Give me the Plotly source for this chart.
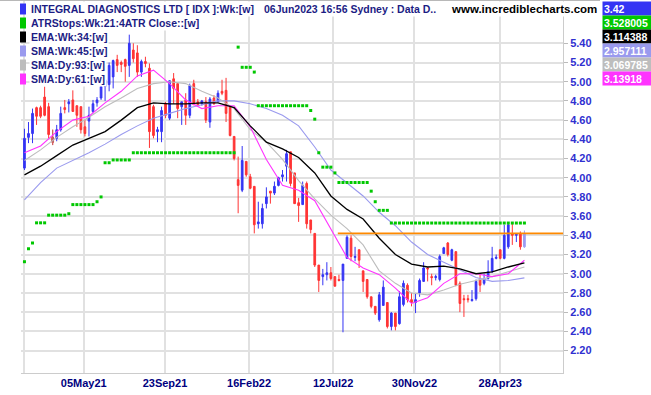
import plotly.graph_objects as go
import pandas as pd

# ---------------- data ----------------
first_bar_date = "2021-01-22"

bar_opens = [4.10, 4.42, 4.46, 4.73, 4.73, 4.84, 4.74, 4.42, 4.41, 4.50,
             4.73, 4.77, 4.81, 4.75, 4.74, 4.53, 4.59, 4.69, 4.78, 4.83,
             4.95, 4.97, 5.05, 5.23, 5.20, 5.23, 5.17, 5.33, 5.30, 5.10,
             5.21, 5.14, 4.74, 4.48, 4.48, 4.77, 4.62, 5.03, 4.98, 4.74,
             4.81, 4.65, 4.98, 4.79, 4.77, 4.79, 4.58, 4.83, 4.79, 4.90,
             4.91, 4.74, 4.43, 3.98, 3.87, 4.17, 4.01, 3.91, 3.52, 3.52,
             3.73, 3.86, 3.84, 3.92, 4.01, 4.12, 4.27, 4.05, 3.74, 3.72,
             3.94, 3.56, 3.42, 3.09, 2.97, 2.99, 3.01, 2.97, 2.94, 2.93,
             3.16, 3.37, 3.17, 3.25, 3.03, 2.94, 2.76, 2.66, 2.52, 2.67,
             2.70, 2.45, 2.59, 2.48, 2.68, 2.88, 2.73, 2.70, 2.80, 2.92,
             3.06, 2.97, 2.96, 2.94, 3.21, 3.32, 3.14, 3.23, 2.90, 2.74,
             2.74, 2.72, 2.74, 2.94, 2.90, 2.95, 3.02, 3.16, 3.25, 3.16,
             3.28, 3.42, 3.40, 3.42, 3.28]
bar_highs = [4.51, 4.58, 4.72, 4.74, 4.75, 4.95, 4.78, 4.50, 4.55, 4.74,
             4.81, 4.82, 4.91, 4.75, 4.74, 4.60, 4.74, 4.81, 4.84, 4.97,
             5.05, 5.20, 5.23, 5.28, 5.22, 5.24, 5.49, 5.40, 5.38, 5.23,
             5.26, 5.19, 4.76, 4.53, 4.74, 4.79, 5.01, 5.09, 4.98, 4.79,
             4.88, 4.98, 5.02, 4.82, 4.81, 4.84, 4.84, 4.86, 4.91, 5.02,
             5.04, 4.74, 4.43, 4.22, 4.33, 4.17, 4.04, 3.91, 3.75, 3.73,
             3.90, 3.86, 3.96, 4.01, 4.08, 4.29, 4.27, 4.05, 3.79, 3.96,
             3.96, 3.56, 3.42, 3.09, 3.05, 3.12, 3.07, 2.97, 2.99, 3.10,
             3.40, 3.40, 3.28, 3.25, 3.03, 2.94, 2.76, 2.66, 2.81, 2.93,
             2.70, 2.60, 2.59, 2.82, 2.93, 2.90, 2.80, 2.80, 2.95, 3.12,
             3.07, 3.00, 2.99, 3.20, 3.28, 3.33, 3.26, 3.23, 2.92, 2.78,
             2.78, 2.83, 2.94, 2.99, 3.00, 3.14, 3.28, 3.20, 3.25, 3.51,
             3.52, 3.52, 3.42, 3.44, 3.45]
bar_lows = [4.08, 4.36, 4.36, 4.55, 4.62, 4.64, 4.41, 4.34, 4.38, 4.48,
            4.67, 4.68, 4.69, 4.53, 4.46, 4.43, 4.43, 4.67, 4.74, 4.81,
            4.80, 4.90, 4.93, 5.10, 5.10, 5.00, 5.05, 5.20, 5.05, 5.05,
            5.15, 4.31, 4.41, 4.37, 4.37, 4.62, 4.60, 4.77, 4.62, 4.55,
            4.55, 4.62, 4.76, 4.75, 4.75, 4.57, 4.52, 4.76, 4.79, 4.86,
            4.58, 4.43, 4.18, 3.63, 3.85, 4.01, 3.88, 3.42, 3.47, 3.47,
            3.68, 3.73, 3.82, 3.91, 3.96, 3.96, 3.91, 3.73, 3.54, 3.72,
            3.47, 3.42, 3.07, 2.81, 2.88, 2.93, 2.93, 2.87, 2.92, 2.39,
            3.16, 3.13, 3.13, 3.06, 2.81, 2.74, 2.64, 2.57, 2.50, 2.67,
            2.43, 2.41, 2.41, 2.47, 2.66, 2.70, 2.66, 2.59, 2.76, 2.92,
            2.92, 2.88, 2.93, 2.92, 3.21, 3.18, 3.13, 2.87, 2.60, 2.55,
            2.70, 2.71, 2.72, 2.81, 2.88, 2.94, 3.01, 3.15, 3.15, 3.15,
            3.26, 3.30, 3.33, 3.25, 3.27]
bar_closes = [4.41, 4.46, 4.67, 4.64, 4.64, 4.65, 4.45, 4.37, 4.50, 4.67,
              4.71, 4.79, 4.69, 4.65, 4.50, 4.46, 4.65, 4.77, 4.81, 4.95,
              5.02, 5.17, 5.22, 5.17, 5.18, 5.16, 5.40, 5.24, 5.10, 5.21,
              5.19, 4.48, 4.44, 4.50, 4.70, 4.65, 5.01, 4.93, 4.72, 4.79,
              4.65, 4.96, 4.76, 4.76, 4.80, 4.60, 4.82, 4.77, 4.88, 4.88,
              4.67, 4.44, 4.20, 3.92, 4.18, 4.03, 3.89, 3.51, 3.54, 3.68,
              3.80, 3.84, 3.91, 4.00, 4.03, 4.25, 3.94, 3.73, 3.71, 3.92,
              3.52, 3.46, 3.09, 2.93, 2.99, 3.01, 2.95, 2.87, 2.93, 3.10,
              3.38, 3.18, 3.18, 3.14, 2.92, 2.76, 2.66, 2.59, 2.78, 2.86,
              2.45, 2.59, 2.45, 2.76, 2.90, 2.73, 2.70, 2.73, 2.93, 3.06,
              3.05, 2.96, 2.97, 3.18, 3.27, 3.20, 3.25, 2.88, 2.69, 2.73,
              2.73, 2.73, 2.92, 2.88, 2.95, 3.02, 3.16, 3.17, 3.16, 3.40,
              3.51, 3.40, 3.41, 3.28, 3.42]
muted_bar_index = 7

atr_stops = [3.125, 3.26, 3.32, 3.53, 3.53, 3.53, 3.61, 3.61, 3.61, 3.61,
             3.61, 3.625, 3.72, 3.72, 3.72, 3.72, 3.72, 3.72, 3.75, 3.80,
             4.156, 4.156, 4.185, 4.185, 4.185, 4.185, 4.185, 4.26, 4.26, 4.26,
             4.26, 4.26, 4.26, 4.26, 4.26, 4.26, 4.26, 4.26, 4.26, 4.26,
             4.26, 4.26, 4.26, 4.26, 4.26, 4.26, 4.26, 4.26, 4.26, 4.26,
             4.26, 4.26, 4.26, 5.36, 5.15, 5.15, 5.15, 5.10, 4.75, 4.75,
             4.75, 4.75, 4.75, 4.75, 4.75, 4.75, 4.75, 4.75, 4.75, 4.75,
             4.75, 4.70, 4.61, 4.26, 4.11, 4.11, 4.11, 4.05, 3.95, 3.95,
             3.95, 3.95, 3.95, 3.95, 3.95, 3.95, 3.86, 3.75, 3.66, 3.66,
             3.66, 3.528, 3.528, 3.528, 3.528, 3.528, 3.528, 3.528, 3.528, 3.528,
             3.528, 3.528, 3.528, 3.528, 3.528, 3.528, 3.528, 3.528, 3.528, 3.528,
             3.528, 3.528, 3.528, 3.528, 3.528, 3.528, 3.528, 3.528, 3.528, 3.528,
             3.528, 3.528, 3.528, 3.528, 3.528]

ma_step = 4   # moving averages
ema34_wk = [4.03, 4.12, 4.23, 4.34, 4.41, 4.48, 4.60, 4.73, 4.78, 4.77,
            4.77, 4.78, 4.78, 4.73, 4.54, 4.37, 4.30, 4.21, 4.05, 3.81,
            3.67, 3.57, 3.37, 3.20, 3.10, 3.07, 3.08, 3.05, 3.00, 3.02,
            3.07, 3.114]
sma45_wk = [3.77, 3.95, 4.10, 4.18, 4.26, 4.35, 4.45, 4.54, 4.62, 4.67,
            4.72, 4.76, 4.80, 4.80, 4.77, 4.72, 4.65, 4.54, 4.32, 4.08,
            3.94, 3.81, 3.64, 3.50, 3.33, 3.20, 3.12, 3.04, 2.96, 2.92,
            2.93, 2.957]
sma93_dy = [4.18, 4.29, 4.42, 4.53, 4.63, 4.74, 4.83, 4.93, 4.98, 5.00,
            4.98, 4.90, 4.83, 4.72, 4.50, 4.37, 4.19, 3.97, 3.78, 3.61,
            3.47, 3.30, 3.03, 2.90, 2.80, 2.78, 2.83, 2.89, 2.93, 2.97,
            3.02, 3.07]
sma61_dy = [4.26, 4.33, 4.48, 4.60, 4.64, 4.78, 4.90, 5.06, 5.12, 4.98,
            4.81, 4.72, 4.75, 4.75, 4.53, 4.19, 3.92, 3.87, 3.76, 3.46,
            3.17, 3.06, 2.99, 2.85, 2.69, 2.75, 2.90, 3.00, 3.00, 2.97,
            3.00, 3.14]

resistance_level = 3.42
resistance_start = "2022-07-20"

x_range = ["2021-01-16", "2023-08-15"]
y_range = [1.966, 5.851]
x_tick_dates = ["2021-01-22", "2021-05-05", "2021-09-23", "2022-02-16",
                "2022-07-12", "2022-11-30", "2023-04-28"]
x_tick_labels = ["", "05May21", "23Sep21", "16Feb22", "12Jul22", "30Nov22", "28Apr23"]
y_tick_values = [2.2, 2.4, 2.6, 2.8, 3.0, 3.2, 3.4, 3.6, 3.8, 4.0,
                 4.2, 4.4, 4.6, 4.8, 5.0, 5.2, 5.4]
y_tick_labels = ["%.2f" % v for v in y_tick_values]

legend_labels = ["INTEGRAL DIAGNOSTICS LTD [ IDX ]:Wk:[w]",
                 "ATRStops:Wk:21:4ATR Close::[w]",
                 "EMA:Wk:34:[w]",
                 "SMA:Wk:45:[w]",
                 "SMA:Dy:93:[w]",
                 "SMA:Dy:61:[w]"]
header_date_text = "06Jun2023 16:56 Sydney : Data D.."
site_text = "www.incrediblecharts.com"
last_values = ["3.42", "3.528005", "3.114388", "2.957111", "3.069785", "3.13918"]

# ---------------- styles ----------------
UP = "#3434f4"
DOWN = "#ff3434"
MUTED = "#c46464"
CURRENT = "#9c9cf2"
GREEN = "#00c800"
LAVENDER = "#9a9aee"
GRAY = "#bdbdbd"
MAGENTA = "#ff33ff"
series_colors = [UP, GREEN, "#000000", LAVENDER, GRAY, MAGENTA]
GRID = "#e1e1e1"

L, R, T, B = 21, 563, 0, 373
W_FIG, H_FIG = 651, 395


def xp(px):
    return (px - L) / (R - L)


def yp(py):
    return (B - py) / (B - T)


dates = pd.date_range(first_bar_date, periods=len(bar_closes), freq="7D")
ma_dates = dates[::ma_step]
n = len(bar_closes)

fig = go.Figure()

# main candles (all but the current bar)
fig.add_trace(go.Candlestick(
    x=dates[:n - 1], open=bar_opens[:n - 1], high=bar_highs[:n - 1],
    low=bar_lows[:n - 1], close=bar_closes[:n - 1],
    increasing=dict(line=dict(color=UP, width=1), fillcolor=UP),
    decreasing=dict(line=dict(color=DOWN, width=1), fillcolor=DOWN),
    whiskerwidth=0, hoverinfo="skip", showlegend=False))

m = muted_bar_index
fig.add_trace(go.Candlestick(
    x=dates[m:m + 1], open=bar_opens[m:m + 1], high=bar_highs[m:m + 1],
    low=bar_lows[m:m + 1], close=bar_closes[m:m + 1],
    increasing=dict(line=dict(color=MUTED, width=1), fillcolor=MUTED),
    decreasing=dict(line=dict(color=MUTED, width=1), fillcolor=MUTED),
    whiskerwidth=0, hoverinfo="skip", showlegend=False))

fig.add_trace(go.Candlestick(
    x=dates[n - 1:], open=bar_opens[n - 1:], high=bar_highs[n - 1:],
    low=bar_lows[n - 1:], close=bar_closes[n - 1:],
    increasing=dict(line=dict(color=CURRENT, width=1), fillcolor=CURRENT),
    decreasing=dict(line=dict(color=CURRENT, width=1), fillcolor=CURRENT),
    whiskerwidth=0, hoverinfo="skip", showlegend=False))

# moving averages
for vals, col, w in [(sma45_wk, LAVENDER, 1.1), (sma93_dy, GRAY, 1.1),
                     (sma61_dy, MAGENTA, 1.1), (ema34_wk, "#000000", 1.3)]:
    fig.add_trace(go.Scatter(x=ma_dates, y=vals, mode="lines",
                             line=dict(color=col, width=w),
                             hoverinfo="skip", showlegend=False))

# ATR stops
fig.add_trace(go.Scatter(x=dates, y=atr_stops, mode="markers",
                         marker=dict(symbol="square", size=3, color=GREEN,
                                     line=dict(width=0)),
                         hoverinfo="skip", showlegend=False))

# horizontal level line
fig.add_trace(go.Scatter(x=[resistance_start, x_range[1]],
                         y=[resistance_level, resistance_level], mode="lines",
                         line=dict(color="#ff8a00", width=1.6),
                         hoverinfo="skip", showlegend=False))

annotations = []
shapes = []
row_centers = [9, 23, 37, 51, 65, 79]
txt_font = dict(family="Arial", size=10.5, color="#1c1c84", weight="bold")

for i, (lab, col) in enumerate(zip(legend_labels, series_colors)):
    yc = row_centers[i]
    shapes.append(dict(type="rect", xref="paper", yref="paper",
                       x0=xp(20), x1=xp(26), y0=yp(yc + 5.5), y1=yp(yc - 5.5),
                       fillcolor=col, line=dict(width=0), layer="above"))
    annotations.append(dict(x=xp(29), y=yp(yc), xref="paper", yref="paper",
                            xanchor="left", yanchor="middle", text=lab,
                            showarrow=False, font=txt_font,
                            bgcolor="white", borderpad=1))
    annotations.append(dict(x=xp(602), y=yp(yc - 0.5), xref="paper", yref="paper",
                            xanchor="left", yanchor="middle", text=last_values[i],
                            showarrow=False, align="left", width=47, height=11,
                            font=dict(family="Arial", size=10.5, color="white",
                                      weight="bold"),
                            bgcolor=col, borderpad=1))

annotations.append(dict(x=xp(262), y=yp(row_centers[0]), xref="paper", yref="paper",
                        xanchor="left", yanchor="middle", text=header_date_text,
                        showarrow=False, font=txt_font, bgcolor="white", borderpad=1))
annotations.append(dict(x=xp(449), y=yp(row_centers[0]), xref="paper", yref="paper",
                        xanchor="left", yanchor="middle", text=site_text,
                        showarrow=False,
                        font=dict(family="Arial", size=11.5, color="#000000",
                                  weight="bold"),
                        bgcolor="white", borderpad=1))

shapes.append(dict(type="line", xref="paper", yref="paper",
                   x0=xp(0), x1=xp(600), y0=yp(0.5), y1=yp(0.5),
                   line=dict(color="#b8b8b8", width=1), layer="above"))

fig.update_layout(
    width=W_FIG, height=H_FIG, autosize=False,
    margin=dict(l=L, r=W_FIG - R, t=T, b=H_FIG - B, pad=0),
    paper_bgcolor="white", plot_bgcolor="white",
    showlegend=False, boxgap=0.4, boxmode="overlay",
    font=dict(family="Arial"),
    annotations=annotations, shapes=shapes,
    xaxis=dict(type="date", range=x_range, tickmode="array",
               tickvals=x_tick_dates, ticktext=x_tick_labels,
               showgrid=True, gridcolor=GRID, gridwidth=2,
               showline=True, linecolor="#cccccc", linewidth=1,
               ticks="", zeroline=False, fixedrange=True,
               rangeslider=dict(visible=False),
               tickfont=dict(family="Arial", size=11, color="#000080",
                             weight="bold")),
    yaxis=dict(side="right", range=y_range, tickmode="array",
               tickvals=y_tick_values, ticktext=y_tick_labels,
               showgrid=True, gridcolor=GRID, gridwidth=2,
               showline=True, linecolor="#cccccc", linewidth=1,
               ticks="outside", ticklen=4, tickcolor="#bbbbbb",
               zeroline=False, fixedrange=True,
               tickfont=dict(family="Arial", size=11, color="#3030d0",
                             weight="bold")),
)

fig.write_html("out.html")
